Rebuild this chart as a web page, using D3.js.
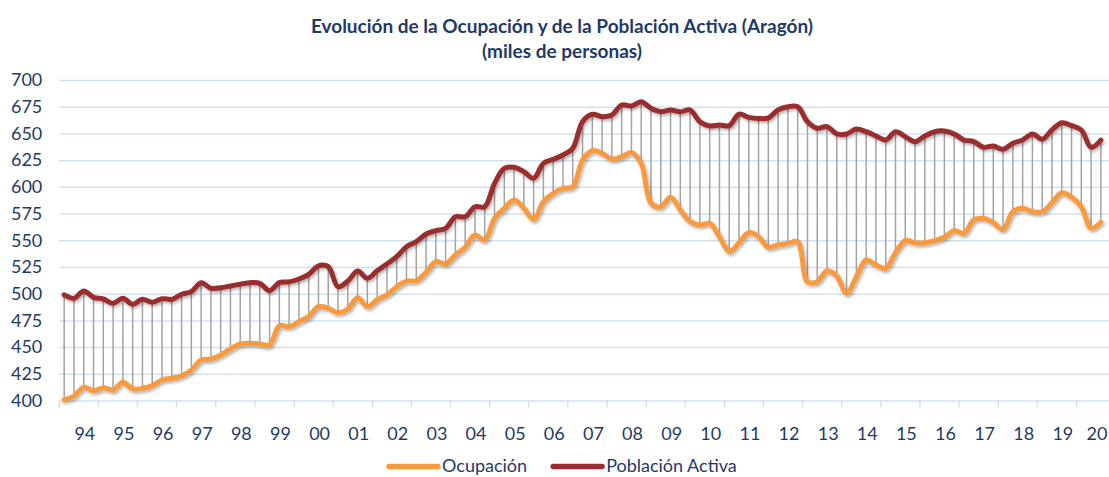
<!DOCTYPE html>
<html>
<head>
<meta charset="utf-8">
<script src="https://cdn.jsdelivr.net/npm/d3@7"></script>
<style>
  html, body { margin: 0; padding: 0; background: #fff; }
  svg { display: block; font-family: Lato, 'Open Sans', sans-serif; }
</style>
</head>
<body>
<div id="chart"></div>
<script>
// year labels on the category axis (one group of 4 quarters each)
const years = ['94', '95', '96', '97', '98', '99', '00', '01', '02', '03', '04', '05', '06',
    '07', '08', '09', '10', '11', '12', '13', '14', '15', '16', '17', '18', '19', '20'];

// quarterly values, 1994 T1 .. 2020 T3 (miles de personas)
const poblacionActiva = [
    498.8, 495.6, 502.5, 496.6, 495.0, 491.0, 495.6, 490.0, 494.7, 491.9, 495.3, 494.7,
    499.4, 501.9, 510.3, 505.0, 505.6, 507.2, 508.8, 510.3, 509.7, 502.8, 510.3, 511.0,
    513.7, 518.1, 526.0, 525.3, 506.5, 511.8, 521.2, 514.4, 521.5, 527.8, 534.6, 544.0,
    548.7, 555.9, 559.0, 561.2, 572.0, 572.0, 581.4, 581.4, 603.3, 617.3, 618.3, 614.2,
    608.0, 622.0, 625.8, 629.8, 636.0, 661.0, 667.9, 665.7, 667.3, 676.6, 675.7, 679.7,
    673.5, 670.3, 671.9, 670.3, 671.9, 661.0, 657.0, 657.9, 657.3, 668.0, 665.0, 664.0,
    664.5, 672.0, 675.0, 675.0, 661.0, 654.8, 656.3, 649.5, 649.5, 654.1, 651.6, 647.6,
    643.8, 651.6, 647.0, 642.3, 647.6, 651.6, 652.3, 649.5, 643.8, 642.3, 637.0, 638.2,
    635.1, 640.8, 643.8, 649.5, 644.5, 653.2, 660.0, 657.3, 653.2, 637.0, 643.8
];

const ocupacion = [
    400.5, 404.2, 412.3, 409.2, 412.0, 409.8, 417.0, 410.8, 411.4, 413.9, 419.2, 420.8,
    422.9, 428.5, 437.9, 438.8, 442.6, 448.2, 452.9, 453.5, 452.9, 452.0, 470.0, 469.1,
    473.8, 478.5, 487.8, 486.3, 482.2, 485.6, 496.2, 487.8, 494.3, 498.8, 506.5, 511.8,
    512.1, 520.0, 530.0, 527.8, 536.2, 543.4, 554.9, 550.2, 570.5, 579.9, 587.7, 579.9,
    569.6, 586.1, 594.0, 598.6, 600.1, 625.1, 633.8, 631.4, 625.8, 628.2, 632.0, 622.0,
    584.6, 581.4, 590.2, 578.3, 567.4, 564.3, 565.8, 553.3, 539.3, 547.7, 557.1, 553.3,
    543.4, 545.6, 547.1, 548.7, 511.2, 511.2, 521.5, 516.5, 500.3, 515.9, 531.5, 526.8,
    523.7, 538.4, 549.6, 547.7, 547.7, 549.6, 552.8, 559.0, 556.5, 569.0, 570.5, 566.4,
    560.2, 576.7, 579.9, 576.7, 576.7, 585.2, 594.5, 590.2, 581.4, 561.2, 566.8
];

const yTicks = [400, 425, 450, 475, 500, 525, 550, 575, 600, 625, 650, 675, 700];

const series = [
    { name: 'Ocupación', values: ocupacion, color: '#f79a40' },
    { name: 'Población Activa', values: poblacionActiva, color: '#9a2f2f' }
];

const W = 1109, H = 477;
const textColor = '#1f3a68';
const gridColor = '#d5e0ef';

const svg = d3.select('#chart').append('svg')
    .attr('width', W)
    .attr('height', H);

// soft shadow under the lines
const shadow = svg.append('defs').append('filter')
    .attr('id', 'shadow')
    .attr('x', '-5%').attr('y', '-20%')
    .attr('width', '110%').attr('height', '140%');
shadow.append('feDropShadow')
    .attr('dx', 1.5).attr('dy', 2)
    .attr('stdDeviation', 1.5)
    .attr('flood-color', '#000')
    .attr('flood-opacity', 0.3);

// scales: quarter index -> x, value -> y
const nSlots = years.length * 4;
const x = d3.scaleLinear().domain([0, nSlots]).range([59.3, 59.3 + nSlots * 9.78]);
const y = d3.scaleLinear().domain([400, 700]).range([400.5, 80]);
const xq = i => x(i + 0.5);

// title
const title = svg.append('g')
    .attr('fill', textColor)
    .attr('font-weight', 700)
    .attr('font-size', 19)
    .attr('text-anchor', 'middle');
title.append('text').attr('x', 562).attr('y', 33).text('Evolución de la Ocupación y de la Población Activa (Aragón)');
title.append('text').attr('x', 562).attr('y', 58).text('(miles de personas)');

// horizontal gridlines + y labels
const yAxis = svg.append('g')
    .attr('transform', `translate(${x(0)},0)`)
    .call(d3.axisLeft(y).tickValues(yTicks).tickSize(-(W - x(0))).tickPadding(17).tickFormat(d3.format('d')));
yAxis.select('.domain').remove();
yAxis.selectAll('.tick line')
    .attr('stroke', gridColor)
    .attr('stroke-width', 1.5);
yAxis.selectAll('.tick text')
    .attr('fill', textColor)
    .attr('font-size', 18)
    .attr('font-family', 'Lato, sans-serif');

// category axis: tick marks between years, labels centred on each year
const xAxis = svg.append('g');
xAxis.selectAll('line.tick')
    .data(d3.range(years.length + 1))
    .join('line')
    .attr('class', 'tick')
    .attr('x1', d => x(d * 4)).attr('x2', d => x(d * 4))
    .attr('y1', y(400)).attr('y2', y(400) + 7)
    .attr('stroke', gridColor)
    .attr('stroke-width', 1.5);
xAxis.selectAll('text')
    .data(years)
    .join('text')
    .attr('x', (d, i) => Math.min(x(i * 4 + 2) + 6, W - 12))
    .attr('y', 440)
    .attr('text-anchor', 'middle')
    .attr('fill', textColor)
    .attr('font-size', 18)
    .text(d => d);

// drop lines between the two series
svg.append('g')
    .selectAll('line')
    .data(d3.range(poblacionActiva.length))
    .join('line')
    .attr('x1', xq).attr('x2', xq)
    .attr('y1', i => y(Math.max(poblacionActiva[i], ocupacion[i])))
    .attr('y2', i => y(Math.min(poblacionActiva[i], ocupacion[i])))
    .attr('stroke', '#a3a3a3')
    .attr('stroke-width', 1.5);

// smoothed lines
const line = d3.line()
    .x((d, i) => xq(i))
    .y(d => y(d))
    .curve(d3.curveCatmullRom.alpha(0.5));

svg.append('g')
    .selectAll('path')
    .data(series)
    .join('path')
    .attr('d', d => line(d.values))
    .attr('fill', 'none')
    .attr('stroke', d => d.color)
    .attr('stroke-width', 5)
    .attr('stroke-linejoin', 'round')
    .attr('stroke-linecap', 'round')
    .attr('filter', 'url(#shadow)');

// legend at the bottom
const legend = svg.append('g');
let lx = 389;
series.forEach(s => {
    legend.append('line')
        .attr('x1', lx).attr('x2', lx + 49)
        .attr('y1', 466.5).attr('y2', 466.5)
        .attr('stroke', s.color)
        .attr('stroke-width', 5.5)
        .attr('stroke-linecap', 'round');
    const t = legend.append('text')
        .attr('x', lx + 53)
        .attr('y', 472)
        .attr('fill', textColor)
        .attr('font-size', 18)
        .text(s.name);
    lx += 53 + t.node().getComputedTextLength() + 26;
});
</script>
</body>
</html>
